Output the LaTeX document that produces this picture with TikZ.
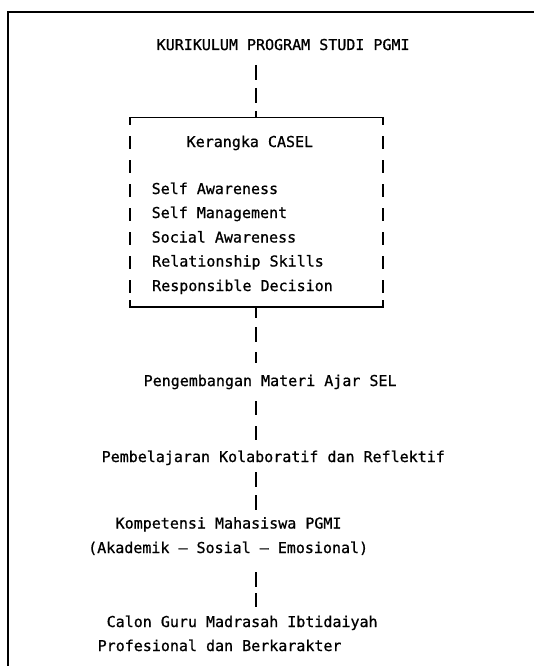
\documentclass[tikz,border=0pt]{standalone}
\usepackage{fontspec}
\newfontfamily\diagfont{DejaVu Sans Mono}[FakeBold=0.8]
\begin{document}
\begin{tikzpicture}[x=1pt,y=-1pt,
  txt/.style={anchor=base west, inner sep=0pt, font=\diagfont\fontsize{15}{15}\selectfont},
  bar/.style={line width=1.7pt},
  frame/.style={line width=2.2pt}]
\useasboundingbox (0,0) rectangle (533,666);
% outer frame (open at right and bottom)
\draw[frame] (8,667) -- (8,12) -- (534,12);
% texts
\node[txt] (title) at (156.5,50) {KURIKULUM PROGRAM STUDI PGMI};
\node[txt] (casel) at (186.5,147) {Kerangka CASEL};
\node[txt] (sa) at (151.5,194) {Self Awareness};
\node[txt] (sm) at (151.5,218) {Self Management};
\node[txt] (soa) at (151.5,242.5) {Social Awareness};
\node[txt] (rs) at (152,266.5) {Relationship Skills};
\node[txt] (rd) at (152,291) {Responsible Decision};
\node[txt] (pm) at (143.5,386) {Pengembangan Materi Ajar SEL};
\node[txt] (pk) at (101.5,462) {Pembelajaran Kolaboratif dan Reflektif};
\node[txt] (km) at (115.5,528.5) {Kompetensi Mahasiswa PGMI};
\node[txt] (ak) at (88,553) {(Akademik – Sosial – Emosional)};
\node[txt] (cg) at (106.5,627) {Calon Guru Madrasah Ibtidaiyah};
\node[txt] (pb) at (97.5,651) {Profesional dan Berkarakter};
% box
\coordinate (bTL) at (130,117.5);
\coordinate (bTR) at (383,117.5);
\coordinate (bBL) at (130,307);
\coordinate (bBR) at (383,307);
\coordinate (bTop) at (256,117.5);
\coordinate (bBot) at (256,307);
\draw[bar] ([yshift=-7.5pt]bTL) -- (bTL) -- (bTR) -- ([yshift=-7.5pt]bTR);
\draw[bar] ([yshift=7pt]bBL) -- (bBL) -- (bBR) -- ([yshift=7pt]bBR);
\draw[bar, dash pattern=on 13pt off 11pt] (130,136) -- (130,293.5);
\draw[bar, dash pattern=on 13pt off 11pt] (383,136) -- (383,293.5);
% connectors
\coordinate (c1) at (256,65);
\draw[bar, dash pattern=on 15pt off 8pt] (c1) -- (bTop);
\coordinate (c2) at (256,367);
\draw[bar, dash pattern=on 11pt off 9pt on 15pt off 10pt] (bBot) -- (c2);
\coordinate (c3a) at (256,401);
\coordinate (c3b) at (256,440);
\draw[bar, dash pattern=on 14pt off 11pt] (c3a) -- (c3b);
\coordinate (c4a) at (256,472);
\coordinate (c4b) at (256,510);
\draw[bar, dash pattern=on 15pt off 8pt] (c4a) -- (c4b);
\coordinate (c5a) at (256,572);
\coordinate (c5b) at (256,607);
\draw[bar, dash pattern=on 15pt off 6pt] (c5a) -- (c5b);
\end{tikzpicture}
\end{document}
